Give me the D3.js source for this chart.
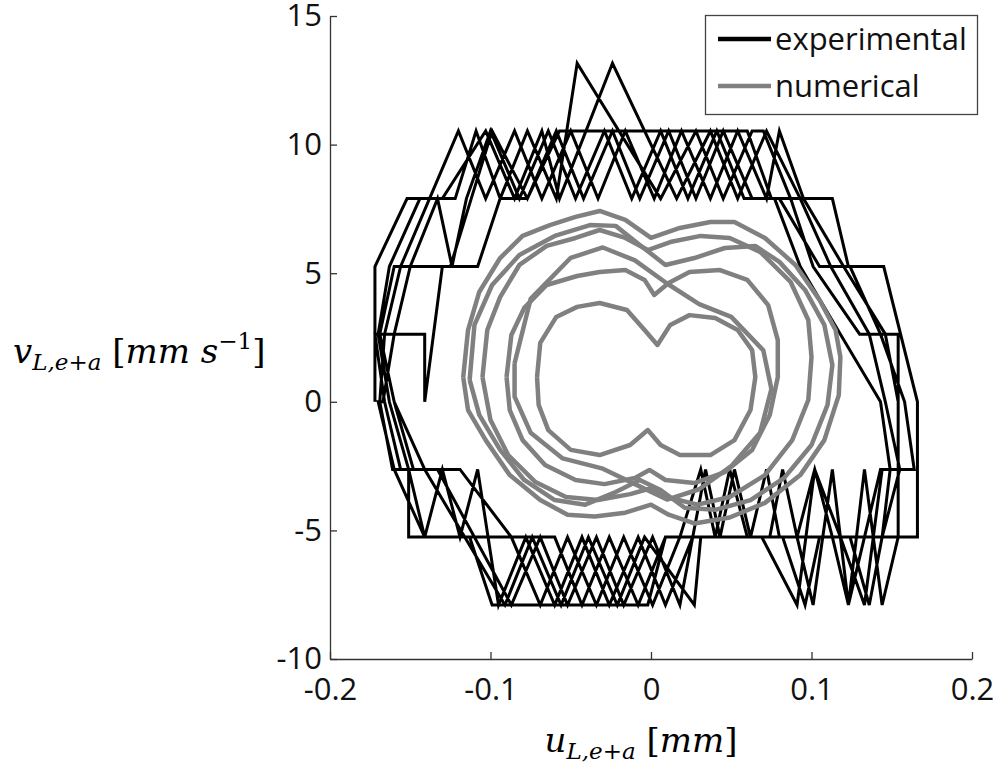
<!DOCTYPE html>
<html>
<head>
<meta charset="utf-8">
<script src="https://cdn.jsdelivr.net/npm/d3@7"></script>
<style>
  body { margin: 0; background: #fff; }
  svg { display: block; }
</style>
</head>
<body>
<div id="container"></div>
<script>
/* CONSTANTS AND GLOBALS */
const width = 997,
  height = 767,
  margin = { top: 16, right: 25, bottom: 108, left: 330 };

/* DATA */
// experimental phase portrait [u (mm), v (mm/s)], one loop after another
const expLoop1 = [
  [-0.172, 0], [-0.172, 5.26], [-0.152, 7.9], [-0.122, 7.9], [-0.109, 10.53], [-0.094, 7.9],
  [-0.077, 7.9], [-0.057, 10.53], [0.060, 10.53], [0.075, 7.9], [0.113, 7.9], [0.123, 5.26],
  [0.145, 5.26], [0.166, 0], [0.166, -5.26], [0.009, -5.26], [-0.002, -7.9], [-0.099, -7.9],
  [-0.113, -5.26], [-0.141, -5.26], [-0.151, -2.63], [-0.161, -2.63], [-0.169, 0]
];
const expLoop2 = [
  [-0.166, 2.63], [-0.156, 5.26], [-0.138, 7.9], [-0.120, 10.53], [-0.103, 7.9], [-0.085, 10.53],
  [-0.068, 7.9], [-0.050, 10.53], [-0.033, 7.9], [-0.016, 10.53], [0.002, 7.9], [0.019, 10.53],
  [0.037, 7.9], [0.054, 10.53], [0.072, 7.9], [0.080, 10.53], [0.095, 7.9], [0.120, 5.26],
  [0.146, 2.63], [0.154, 2.63], [0.154, -5.26], [0.144, -7.9], [0.133, -2.63], [0.123, -7.9],
  [0.113, -2.63], [0.101, -7.9], [0.091, -5.26], [0.080, -5.26], [0.072, -2.63], [0.062, -5.26],
  [0.052, -2.63], [0.043, -5.26], [0.034, -2.63], [0.026, -5.26], [0.018, -7.9], [0.001, -5.26],
  [-0.017, -7.9], [-0.034, -5.26], [-0.052, -7.9], [-0.069, -5.26], [-0.087, -7.9], [-0.133, -2.63],
  [-0.156, -2.63], [-0.166, 0]
];
const expLoop3 = [
  [-0.172, 2.63], [-0.141, 2.63], [-0.141, 0], [-0.130, 5.26], [-0.108, 5.26], [-0.094, 7.9],
  [-0.077, 10.53], [-0.059, 7.9], [-0.046, 13.16], [0.006, 7.9], [0.028, 10.53], [0.045, 7.9],
  [0.063, 10.53], [0.070, 10.53], [0.087, 7.9], [0.101, 5.26], [0.130, 2.63], [0.146, 2.63],
  [0.154, 0], [0.154, -2.63], [0.144, -2.63], [0.133, -7.9], [0.118, -5.26], [0.102, -2.63],
  [0.091, -7.9], [0.069, -5.26], [0.026, -5.26], [0.009, -7.9], [-0.008, -5.26], [-0.026, -7.9],
  [-0.043, -5.26], [-0.060, -7.9], [-0.078, -5.26], [-0.095, -7.9], [-0.108, -2.63], [-0.119, -5.26],
  [-0.130, -2.63], [-0.141, -5.26], [-0.151, -5.26], [-0.151, -2.63], [-0.163, 0]
];
const expLoop4 = [
  [-0.170, 2.63], [-0.163, 5.26], [-0.144, 7.9], [-0.130, 7.9], [-0.103, 10.53], [-0.085, 7.9],
  [-0.068, 10.53], [-0.057, 7.9], [-0.024, 13.16], [0.016, 7.9], [0.037, 10.53], [0.054, 7.9],
  [0.072, 10.53], [0.093, 7.9], [0.112, 5.26], [0.136, 2.63], [0.146, 0], [0.155, -2.63],
  [0.144, -5.26], [0.091, -5.26], [0.082, -2.63], [0.074, -5.26], [0.060, -5.26], [0.049, -2.63],
  [0.040, -5.26], [0.031, -2.63], [0.018, -5.26], [0.001, -7.9], [-0.017, -5.26], [-0.034, -7.9],
  [-0.052, -5.26], [-0.069, -7.9], [-0.087, -5.26], [-0.119, -2.63], [-0.141, -2.63], [-0.160, 0]
];
const expLoop5 = [
  [-0.169, 2.63], [-0.160, 5.26], [-0.125, 5.26], [-0.112, 7.9], [-0.099, 10.53], [-0.077, 7.9],
  [-0.059, 10.53], [-0.042, 7.9], [-0.024, 10.53], [-0.007, 7.9], [0.011, 10.53], [0.028, 7.9],
  [0.045, 10.53], [0.063, 7.9], [0.080, 7.9], [0.105, 5.26], [0.124, 5.26], [0.143, 2.63],
  [0.158, 0], [0.164, -2.63], [0.143, -2.63], [0.133, -5.26], [0.123, -7.9], [0.113, -5.26],
  [0.102, -2.63], [0.091, -5.26], [0.069, -5.26], [0.027, -5.26], [0.009, -5.26], [-0.008, -7.9],
  [-0.026, -5.26], [-0.043, -7.9], [-0.060, -5.26], [-0.141, -5.26], [-0.160, -2.63], [-0.170, 0]
];
const expLoop6 = [
  [-0.167, 0], [-0.160, 2.63], [-0.150, 5.26], [-0.133, 7.9], [-0.124, 5.26], [-0.115, 7.9],
  [-0.100, 10.53], [-0.082, 7.9], [-0.064, 10.53], [-0.047, 7.9], [-0.029, 10.53], [-0.012, 7.9],
  [0.006, 10.53], [0.023, 7.9], [0.041, 10.53], [0.058, 7.9], [0.077, 7.9], [0.093, 5.26],
  [0.118, 2.63], [0.143, 0], [0.149, -2.63], [0.144, -5.26], [0.136, -7.9], [0.124, -5.26],
  [0.105, -5.26], [0.096, -7.9], [0.082, -5.26], [0.031, -5.26], [0.027, -7.9], [-0.004, -5.26],
  [-0.021, -7.9], [-0.039, -5.26], [-0.056, -7.9], [-0.074, -5.26], [-0.091, -7.9], [-0.141, -2.63],
  [-0.148, -2.63], [-0.160, 0]
];

// numerical phase portrait, loops from outside in
const numLoop1 = [
  [-0.117, 0.96], [-0.114, 2.79], [-0.107, 4.27], [-0.094, 5.59], [-0.080, 6.45], [-0.063, 6.87],
  [-0.047, 7.19], [-0.032, 7.42], [-0.016, 7.07], [0, 6.37], [0.018, 6.76], [0.037, 6.99],
  [0.052, 6.99], [0.071, 6.37], [0.090, 5.32], [0.105, 3.96], [0.115, 2.79], [0.118, 1.74],
  [0.117, 0.26], [0.108, -1.49], [0.093, -2.85], [0.071, -3.93], [0.049, -4.50], [0.027, -4.73],
  [0.011, -4.39], [0, -4.00], [-0.016, -4.31], [-0.035, -4.46], [-0.052, -4.39], [-0.069, -3.82],
  [-0.088, -2.85], [-0.103, -1.49], [-0.114, -0.32], [-0.117, 0.96]
];
const numLoop2 = [
  [-0.113, 0.85], [-0.110, 2.99], [-0.099, 4.54], [-0.082, 5.71], [-0.060, 6.45], [-0.038, 6.87],
  [-0.022, 6.84], [-0.007, 6.10], [0.009, 5.32], [0.027, 5.59], [0.046, 5.98], [0.065, 6.06],
  [0.080, 5.44], [0.096, 4.35], [0.108, 2.99], [0.113, 1.43], [0.110, -0.12], [0.100, -1.68],
  [0.083, -2.96], [0.062, -3.82], [0.040, -4.20], [0.021, -4.12], [0.006, -3.43], [-0.007, -3.04],
  [-0.022, -3.51], [-0.041, -4.00], [-0.060, -3.82], [-0.079, -3.04], [-0.094, -1.87], [-0.107, -0.51],
  [-0.113, 0.85]
];
const numLoop3 = [
  [-0.105, 0.96], [-0.102, 2.79], [-0.094, 4.07], [-0.082, 5.32], [-0.065, 6.06], [-0.047, 6.37],
  [-0.032, 6.68], [-0.016, 6.37], [-0.002, 5.90], [0.012, 6.21], [0.031, 6.45], [0.049, 6.37],
  [0.068, 5.83], [0.087, 4.66], [0.098, 3.18], [0.100, 1.74], [0.098, 0.07], [0.088, -1.49],
  [0.071, -2.85], [0.049, -3.70], [0.029, -4.00], [0.012, -3.74], [0, -3.36], [-0.013, -3.59],
  [-0.033, -3.82], [-0.053, -3.70], [-0.072, -3.12], [-0.089, -2.07], [-0.100, -0.71], [-0.105, 0.96]
];
const numLoop4 = [
  [-0.090, 0.96], [-0.087, 2.60], [-0.079, 3.65], [-0.065, 4.54], [-0.046, 4.89], [-0.032, 5.05],
  [-0.016, 5.12], [-0.004, 4.74], [0.002, 4.15], [0.011, 4.62], [0.024, 5.05], [0.043, 5.12],
  [0.060, 4.74], [0.073, 3.76], [0.079, 2.40], [0.079, 0.96], [0.074, -0.51], [0.063, -1.87],
  [0.046, -2.73], [0.027, -3.16], [0.009, -3.04], [-0.001, -2.65], [-0.010, -2.96], [-0.029, -3.20],
  [-0.047, -3.04], [-0.066, -2.46], [-0.080, -1.49], [-0.088, -0.32], [-0.090, 0.96]
];
const numLoop5 = [
  [-0.071, 0.96], [-0.069, 2.29], [-0.059, 3.30], [-0.046, 3.69], [-0.032, 3.84], [-0.015, 3.57],
  [-0.004, 2.79], [0.004, 2.21], [0.012, 2.99], [0.024, 3.37], [0.040, 3.26], [0.054, 2.79],
  [0.063, 2.01], [0.065, 0.96], [0.062, -0.32], [0.052, -1.49], [0.037, -2.07], [0.018, -2.07],
  [0.006, -1.68], [-0.002, -1.10], [-0.013, -1.68], [-0.032, -2.07], [-0.050, -1.87], [-0.064, -1.10],
  [-0.070, -0.12], [-0.071, 0.96]
];
// loop that crosses from the left lobe into the right one
const numLoop6 = [
  [-0.085, 1.5], [-0.075, 4.0], [-0.050, 5.6], [-0.030, 6.0], [-0.010, 5.5], [0.010, 4.6],
  [0.030, 3.8], [0.050, 3.3], [0.070, 2.0], [0.075, 0.5], [0.068, -1.2], [0.050, -2.5],
  [0.030, -3.4], [0.010, -3.8], [-0.010, -3.2], [-0.030, -2.6], [-0.055, -2.2], [-0.075, -1.2],
  [-0.085, 0.2], [-0.085, 1.5]
];

const xTicks = [-0.2, -0.1, 0, 0.1, 0.2];
const yTicks = [-10, -5, 0, 5, 10, 15];
const seriesNames = ["experimental", "numerical"];
const seriesColors = ["#000000", "#808080"];

/* SVG */
const svg = d3.select("#container")
  .append("svg")
  .attr("width", width)
  .attr("height", height);

/* SCALES */
const xScale = d3.scaleLinear()
  .domain([-0.2, 0.2])
  .range([margin.left, width - margin.right]);

const yScale = d3.scaleLinear()
  .domain([-10, 15])
  .range([height - margin.bottom, margin.top]);

const line = d3.line()
  .x(d => xScale(d[0]))
  .y(d => yScale(d[1]));

/* LINES */
// experimental is one continuous record
const expData = [...expLoop1, ...expLoop2, ...expLoop3, ...expLoop4, ...expLoop5, ...expLoop6];
const numLoops = [numLoop1, numLoop2, numLoop3, numLoop4, numLoop5, numLoop6];

svg.append("path")
  .datum(expData)
  .attr("fill", "none")
  .attr("stroke", seriesColors[0])
  .attr("stroke-width", 3)
  .attr("d", line);

svg.selectAll("path.num")
  .data(numLoops)
  .join("path")
  .attr("class", "num")
  .attr("fill", "none")
  .attr("stroke", seriesColors[1])
  .attr("stroke-width", 4.5)
  .attr("stroke-linejoin", "round")
  .attr("d", line);

/* AXES */
const xAxis = d3.axisBottom(xScale)
  .tickValues(xTicks)
  .tickFormat(d => String(d))
  .tickSizeInner(-7)
  .tickSizeOuter(0)
  .tickPadding(19);

const yAxis = d3.axisLeft(yScale)
  .tickValues(yTicks)
  .tickFormat(d => String(d))
  .tickSizeInner(-7)
  .tickSizeOuter(0)
  .tickPadding(8);

const gx = svg.append("g")
  .attr("transform", `translate(0,${height - margin.bottom})`)
  .call(xAxis);

const gy = svg.append("g")
  .attr("transform", `translate(${margin.left},0)`)
  .call(yAxis);

[gx, gy].forEach(g => {
  g.attr("font-family", "'Open Sans', sans-serif").attr("font-size", 31);
  g.selectAll("path, line").attr("stroke", "#333").attr("stroke-width", 1.3);
  g.selectAll("text").attr("fill", "#111");
});

/* AXIS TITLES */
const mathFont = "'DejaVu Serif', serif";

const xTitle = svg.append("text")
  .attr("x", 641)
  .attr("y", 752)
  .attr("text-anchor", "middle")
  .attr("font-family", mathFont)
  .attr("font-size", 34);
xTitle.append("tspan").attr("font-style", "italic").text("u");
xTitle.append("tspan").attr("font-style", "italic").attr("font-size", 23).attr("dy", 7).text("L,e");
xTitle.append("tspan").attr("font-size", 23).text("+");
xTitle.append("tspan").attr("font-style", "italic").attr("font-size", 23).text("a");
xTitle.append("tspan").attr("dy", -7).text(" [");
xTitle.append("tspan").attr("font-style", "italic").text("mm");
xTitle.append("tspan").text("]");

const yTitle = svg.append("text")
  .attr("x", 13)
  .attr("y", 363)
  .attr("font-family", mathFont)
  .attr("font-size", 34);
yTitle.append("tspan").attr("font-style", "italic").text("v");
yTitle.append("tspan").attr("font-style", "italic").attr("font-size", 23).attr("dy", 7).text("L,e");
yTitle.append("tspan").attr("font-size", 23).text("+");
yTitle.append("tspan").attr("font-style", "italic").attr("font-size", 23).text("a");
yTitle.append("tspan").attr("dy", -7).text(" [");
yTitle.append("tspan").attr("font-style", "italic").text("mm s");
yTitle.append("tspan").attr("font-size", 23).attr("dy", -14).text("\u22121");
yTitle.append("tspan").attr("dy", 14).text("]");

/* LEGEND */
const legend = svg.append("g");
legend.append("rect")
  .attr("x", 705.5)
  .attr("y", 15.5)
  .attr("width", 272)
  .attr("height", 99)
  .attr("fill", "#fff")
  .attr("stroke", "#444")
  .attr("stroke-width", 1.3);

legend.selectAll("line.key")
  .data(seriesNames)
  .join("line")
  .attr("class", "key")
  .attr("x1", 718)
  .attr("x2", 771)
  .attr("y1", (d, i) => 39 + i * 47)
  .attr("y2", (d, i) => 39 + i * 47)
  .attr("stroke", (d, i) => seriesColors[i])
  .attr("stroke-width", 4.5);

legend.selectAll("text.key")
  .data(seriesNames)
  .join("text")
  .attr("class", "key")
  .attr("x", 775)
  .attr("y", (d, i) => 50 + i * 47)
  .attr("font-family", "'Open Sans', sans-serif")
  .attr("font-size", 31)
  .attr("fill", "#111")
  .text(d => d);
</script>
</body>
</html>
